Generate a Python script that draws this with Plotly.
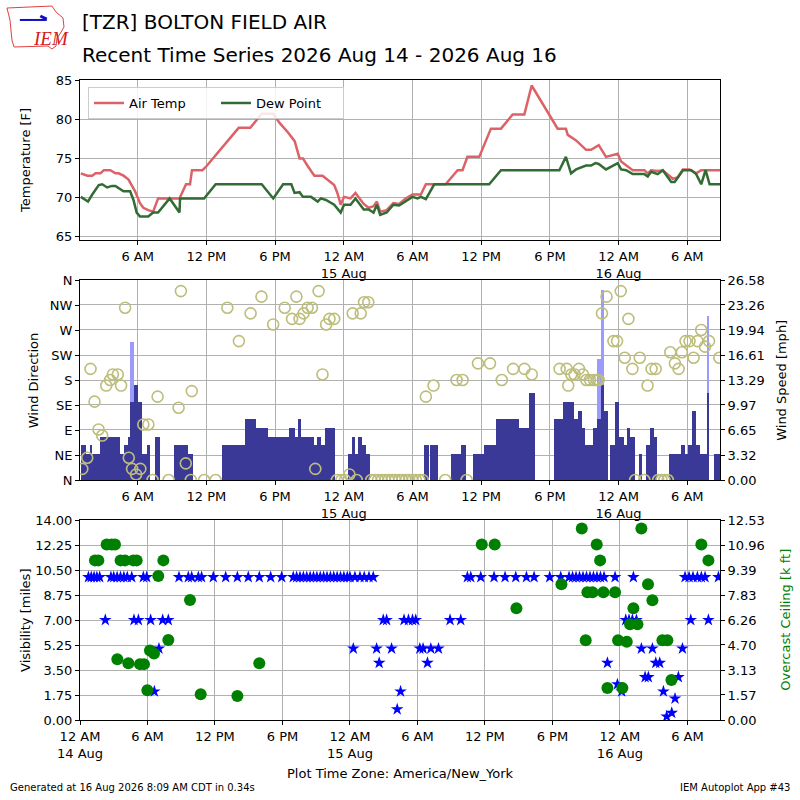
import pandas as pd
import plotly.graph_objects as go

# ==========================================
# DATA (hours after 2026-08-14 00:00, America/New_York)
# ==========================================

BASE = pd.Timestamp("2026-08-14 00:00")

temp_hours = [1.03, 1.6, 2.03, 2.32, 2.75, 3.04, 3.61, 4.05, 4.33, 4.76, 5.2, 5.48, 5.77, 6.2, 6.49,
              6.92, 7.35, 7.78, 9.65, 10.22, 10.57, 10.74, 11.66, 12.0, 13.0, 14.0, 14.82, 15.83, 16.83,
              17.84, 18.41, 19.13, 19.71, 20.14, 20.43, 20.86, 21.43, 22.15, 22.58, 23.16, 23.44, 23.73,
              24.02, 24.59, 25.02, 25.45, 25.74, 26.17, 26.6, 26.89, 27.18, 27.75, 28.33, 28.83, 29.4,
              30.0, 30.73, 31.17, 31.9, 32.9, 33.94, 34.37, 34.8, 35.83, 36.85, 37.73, 38.75, 39.77,
              40.41, 41.08, 41.95, 42.68, 43.4, 43.56, 44.29, 45.16, 45.6, 46.27, 46.9, 47.93, 48.22,
              48.66, 49.24, 50.26, 50.55, 50.84, 51.42, 51.86, 52.74, 53.18, 53.62, 54.2, 54.78, 55.22,
              56.86]
temp_f = [73.1, 72.8, 72.8, 73.1, 73.1, 73.5, 73.5, 73.1, 73.1, 72.8, 72.3, 71.6, 70.8, 69.3, 68.7,
          68.4, 68.2, 69.9, 69.9, 71.7, 71.7, 73.5, 73.5, 74.0, 75.7, 77.4, 78.9, 78.9, 80.7,
          80.7, 79.5, 78.3, 77.2, 75.0, 75.0, 74.0, 72.8, 72.8, 72.3, 71.6, 70.6, 69.1,
          70.1, 69.9, 70.6, 69.7, 69.2, 68.7, 68.9, 69.5, 68.2, 68.4, 69.3, 69.2, 69.9,
          70.4, 70.4, 71.7, 71.7, 71.7, 73.5, 73.5, 75.2, 75.2, 78.8, 78.8, 80.6, 80.6,
          84.3, 82.7, 80.6, 78.8, 78.8, 78.0, 77.3, 76.1, 76.1, 76.7, 75.2, 75.6, 74.6,
          74.1, 73.5, 73.5, 73.1, 73.5, 73.4, 73.5, 72.4, 72.6, 73.6, 73.6, 73.1, 73.5,
          73.5]

dew_hours = [1.03, 1.66, 2.03, 2.6, 2.9, 3.33, 3.76, 4.05, 4.76, 5.34, 5.63, 5.91, 6.2, 6.92, 7.35,
             7.78, 8.79, 9.65, 9.7, 11.8, 12.81, 16.83, 17.84, 18.7, 19.42, 19.7, 20.14, 20.43, 21.14,
             21.72, 22.0, 22.44, 23.16, 23.73, 24.02, 24.59, 25.02, 25.45, 25.74, 26.17, 26.6, 26.89,
             27.18, 27.75, 28.33, 28.83, 29.42, 30.0, 30.44, 30.73, 31.17, 31.9, 36.7, 37.73, 42.83,
             43.4, 43.85, 44.29, 45.16, 45.6, 45.98, 46.27, 46.9, 47.93, 48.22, 48.66, 49.24, 50.26,
             50.55, 50.84, 51.42, 51.86, 52.6, 52.9, 53.62, 54.35, 54.78, 55.22, 55.6, 55.95, 56.86]
dew_f = [70.1, 69.5, 70.4, 71.6, 71.7, 71.3, 71.5, 71.5, 70.8, 70.8, 69.7, 68.1, 67.6, 67.6, 68.1,
         68.1, 69.9, 68.1, 69.9, 69.9, 71.7, 71.7, 69.9, 71.7, 71.7, 70.6, 70.7, 70.1, 70.1,
         69.5, 69.9, 69.7, 69.1, 68.1, 69.1, 69.1, 69.9, 69.1, 68.5, 68.5, 68.1, 69.1,
         67.8, 68.1, 69.1, 69.0, 69.6, 70.1, 69.9, 70.1, 69.8, 71.7, 71.7, 73.5, 73.5,
         75.2, 73.1, 73.6, 74.1, 74.1, 74.4, 74.3, 73.6, 74.4, 73.6, 73.5, 73.0, 73.0,
         72.7, 73.3, 73.0, 73.5, 72.0, 72.0, 73.5, 73.5, 73.0, 71.7, 73.5, 71.7, 71.7]

# wind speed steps (mph), each held until the next observation
wind_hours = [1.07, 1.45, 1.8, 2.03, 2.75, 4.41, 4.78, 5.13, 5.36, 5.65, 6.0, 6.38, 6.81, 7.1, 7.54,
              7.97, 9.19, 10.43, 10.84, 13.39, 15.36, 16.29, 17.36, 19.19, 19.77, 20.0, 20.29, 21.36,
              21.65, 22.0, 22.32, 23.25, 24.35, 24.7, 24.99, 25.28, 25.57, 25.94, 26.29, 31.02, 31.4,
              31.55, 32.25, 33.36, 34.23, 34.67, 35.26, 36.22, 37.3, 39.28, 40.16, 40.66, 42.32, 43.17,
              44.1, 44.48, 44.77, 45.06, 45.73, 46.14, 46.43, 46.72, 47.04, 47.24, 47.73, 48.02, 48.46,
              48.75, 49.04, 49.42, 49.77, 50.09, 50.38, 50.73, 51.08, 51.4, 52.42, 53.41, 53.79, 54.08,
              54.43, 54.75, 55.1, 55.77, 55.92, 56.32, 56.93]
wind_mph = [4.6, 3.45, 4.6, 3.45, 5.75, 3.45, 4.6, 5.75, 10.36, 12.66, 10.36, 3.45, 4.6, 0, 5.75,
            0, 4.6, 3.45, 0, 4.6, 8.06, 6.9, 5.75, 6.9, 5.75, 8.06, 5.75, 4.6,
            5.75, 4.6, 6.9, 0, 3.45, 5.75, 3.45, 5.75, 4.6, 3.45, 0, 4.6, 0,
            4.6, 0, 3.45, 4.6, 0, 3.45, 4.6, 8.06, 6.9, 11.5, 0, 8.06, 10.36,
            8.06, 9.2, 6.9, 4.6, 6.9, 8.06, 12.66, 9.2, 0, 4.6, 10.36, 5.75, 4.6,
            6.9, 5.75, 0, 3.45, 0, 4.6, 6.9, 5.75, 0, 3.45, 4.6, 3.45, 4.6,
            9.2, 4.6, 3.45, 11.5, 0, 3.45, 0]

gust_hours = [5.36, 46.14, 46.43, 55.77]
gust_mph = [18.4, 16.1, 25.3, 21.86]

dir_hours = [1.16, 1.59, 1.88, 2.23, 2.58, 2.9, 3.25, 3.59, 3.83, 4.26, 4.55, 4.9, 5.22, 5.51, 5.86,
             6.23, 6.49, 6.93, 7.3, 7.74, 8.7, 9.57, 9.77, 10.2, 10.64, 10.72, 11.8, 12.8, 13.83,
             14.84, 15.86, 16.81, 17.83, 18.84, 19.48, 19.86, 20.14, 20.49, 20.84, 21.22, 21.51, 21.8,
             22.14, 22.46, 22.75, 23.16, 23.4, 23.8, 24.1, 24.49, 24.78, 25.13, 25.48, 25.77, 26.14,
             26.4, 26.7, 27.0, 27.3, 27.6, 27.9, 28.2, 28.5, 28.83, 29.1, 29.4, 29.7, 30.0, 30.3,
             30.6, 30.9, 31.17, 31.84, 32.86, 33.85, 34.38, 34.73, 35.72, 36.77, 37.8, 38.79, 39.78,
             40.42, 42.85, 43.47, 43.6, 43.87, 44.16, 44.54, 44.89, 45.18, 45.5, 45.85, 46.1, 46.26,
             46.55, 46.95, 47.55, 47.87, 48.19, 48.54, 48.86, 49.21, 49.45, 49.85, 50.25, 50.53, 50.88,
             51.24, 51.46, 51.75, 52.0, 52.3, 52.52, 52.92, 53.24, 53.53, 53.85, 54.2, 54.55, 54.9,
             55.22, 55.55, 55.9, 56.8]
dir_deg = [20, 40, 200, 141, 91, 80, 170, 180, 190, 190, 170, 310, 40, 20, 10,
           20, 100, 100, 0, 150, 0, 130, 340, 30, 0, 160, 0, 0, 310,
           250, 300, 330, 280, 310, 290, 330, 290, 300, 310, 310, 20, 340,
           190, 280, 290, 290, 0, 0, 0, 10, 300, 0, 300, 320, 320,
           0, 0, 0, 0, 0, 0, 0, 0, 0, 0, 0, 0, 0, 0,
           0, 0, 150, 170, 0, 180, 180, 0, 210, 210, 180, 200, 200,
           190, 200, 200, 170, 190, 190, 200, 190, 180, 180, 180, 180, 180,
           300, 330, 250, 250, 340, 220, 290, 200, 0, 220, 0, 170, 200,
           200, 0, 0, 0, 0, 230, 210, 200, 230, 250, 250, 220, 250,
           270, 240, 250, 220]

vis_hours = [0.75, 1.0, 1.25, 1.5, 1.75, 2.25, 2.75, 3.0, 3.3, 3.6, 3.9, 4.2, 4.6, 4.8, 5.19,
             5.63, 5.93, 6.28, 6.61, 7.02, 7.35, 7.85, 8.8, 9.63, 9.93, 10.52, 10.81, 11.85, 12.95,
             13.99, 14.96, 15.94, 16.95, 17.93, 18.96, 19.26, 19.56, 19.86, 20.16, 20.46, 20.76,
             21.06, 21.36, 21.66, 21.96, 22.26, 22.56, 22.86, 23.16, 23.46, 23.76, 24.0, 24.3, 24.44,
             24.89, 25.27, 25.69, 26.07, 26.37, 26.6, 26.96, 27.26, 27.7, 28.2, 28.5, 28.81, 29.2,
             29.56, 29.85, 30.21, 30.5, 30.89, 31.19, 31.87, 32.9, 33.85, 34.44, 34.74, 35.63, 36.81,
             37.79, 38.74, 39.69, 40.37, 41.76, 42.74, 43.48, 43.79, 44.1, 44.41, 44.72, 45.03,
             45.34, 45.65, 45.96, 46.27, 46.59, 46.89, 47.57, 47.78, 48.16, 48.52, 48.81, 49.11,
             49.2, 49.47, 49.91, 50.24, 50.53, 50.89, 51.19, 51.54, 51.87, 52.16, 52.61, 52.9,
             53.2, 53.56, 53.79, 54.15, 54.3, 54.5, 54.89, 55.24, 55.57, 55.87, 56.76]
vis_miles = [10, 10, 10, 10, 10, 7, 10, 10, 10, 10, 10, 10, 10, 7, 7,
             10, 10, 7, 2, 5, 7, 7, 10, 10, 10, 10, 10, 10, 10,
             10, 10, 10, 10, 10, 10, 10, 10, 10, 10, 10, 10,
             10, 10, 10, 10, 10, 10, 10, 10, 10, 10, 10, 5, 10,
             10, 10, 10, 10, 5, 4, 7, 7, 5, 0.75, 2, 7, 7,
             7, 7, 5, 5, 4, 5, 5, 7, 7, 10, 10, 10, 10,
             10, 10, 10, 10, 10, 10, 10, 10, 10, 10, 10, 10,
             10, 10, 10, 10, 10, 4, 10, 2.5, 2, 7, 7, 7,
             10, 7, 5, 3, 3, 5, 4, 4, 2, 0.25, 0.5, 1.5,
             3, 5, 10, 10, 7, 10, 10, 10, 10, 7, 10]

ceil_hours = [1.33, 1.63, 2.37, 2.81, 3.11, 3.32, 3.61, 4.0, 4.3, 4.74, 5.04, 5.33, 5.69, 5.99, 6.22,
              6.58, 6.96, 7.41, 7.85, 9.78, 10.73, 13.99, 15.94, 35.72, 36.87, 38.8, 42.8, 44.61,
              44.96, 45.11, 45.56, 45.94, 46.24, 46.53, 46.89, 47.57, 47.84, 48.22, 48.61, 48.9,
              49.2, 49.56, 49.91, 50.5, 50.89, 51.78, 52.22, 52.58, 55.24, 55.87]
ceil_kft = [10.0, 10.0, 11.0, 11.0, 11.0, 3.8, 10.0, 10.0, 3.55, 10.0, 10.0, 3.5, 3.5, 1.86, 4.36,
            4.16, 9.02, 10.0, 5.01, 7.52, 1.61, 1.5, 3.55, 11.0, 11.0, 7.0, 8.5, 12.0,
            5.0, 8.0, 8.0, 11.0, 10.0, 8.0, 2.0, 8.0, 5.0, 2.0, 4.9, 6.0,
            7.0, 6.0, 12.0, 8.5, 7.5, 5.0, 5.0, 2.5, 11.0, 10.0]

# axis ticks
tick_hours = [0, 6, 12, 18, 24, 30, 36, 42, 48, 54]
tick_labels = ["12 AM<br>14 Aug", "6 AM", "12 PM", "6 PM", "12 AM<br>15 Aug",
               "6 AM", "12 PM", "6 PM", "12 AM<br>16 Aug", "6 AM"]
dir_ticks = [0, 45, 90, 135, 180, 225, 270, 315, 360]
dir_labels = ["N", "NE", "E", "SE", "S", "SW", "W", "NW", "N"]
speed_ticks = [0, 3.32, 6.65, 9.97, 13.29, 16.61, 19.94, 23.26, 26.58]
vis_ticks = [0, 1.75, 3.5, 5.25, 7.0, 8.75, 10.5, 12.25, 14.0]
ceil_ticks = [0, 1.57, 3.13, 4.70, 6.26, 7.83, 9.39, 10.96, 12.53]


def to_time(hours):
    return [BASE + pd.Timedelta(hours=h) for h in hours]


# bar widths: each speed holds until the next report
wind_width = [(b - a) * 3600 * 1000 for a, b in zip(wind_hours[:-1], wind_hours[1:])]
gust_width = [wind_width[wind_hours.index(h)] for h in gust_hours]

FONT = "DejaVu Sans"
GRID = "#b0b0b0"

fig = go.Figure()

# ==========================================
# TEMPERATURE
# ==========================================

fig.add_trace(go.Scatter(x=to_time(temp_hours), y=temp_f, mode="lines", name="Air Temp",
                         line=dict(color="#dd6268", width=2.5), xaxis="x", yaxis="y"))
fig.add_trace(go.Scatter(x=to_time(dew_hours), y=dew_f, mode="lines", name="Dew Point",
                         line=dict(color="#336b35", width=2.5), xaxis="x", yaxis="y"))

# ==========================================
# WIND
# ==========================================

fig.add_trace(go.Bar(x=to_time(gust_hours), y=gust_mph, width=gust_width, offset=0,
                     marker=dict(color="#9a9aff", line=dict(width=0)), showlegend=False,
                     xaxis="x2", yaxis="y2"))
fig.add_trace(go.Bar(x=to_time(wind_hours[:-1]), y=wind_mph[:-1], width=wind_width, offset=0,
                     marker=dict(color="#3b3998", line=dict(width=0)), showlegend=False,
                     xaxis="x2", yaxis="y2"))
fig.add_trace(go.Scatter(x=to_time(dir_hours), y=dir_deg, mode="markers", showlegend=False,
                         marker=dict(symbol="circle-open", size=11, color="#bdbd7c",
                                     line=dict(width=1.6)),
                         xaxis="x2", yaxis="y3"))

# ==========================================
# VISIBILITY / CEILING
# ==========================================

fig.add_trace(go.Scatter(x=to_time(vis_hours), y=vis_miles, mode="markers", showlegend=False,
                         marker=dict(symbol="star", size=9.5, color="#0000ff"),
                         xaxis="x3", yaxis="y4"))
fig.add_trace(go.Scatter(x=to_time(ceil_hours), y=ceil_kft, mode="markers", showlegend=False,
                         marker=dict(symbol="circle", size=12, color="#008000"),
                         xaxis="x3", yaxis="y5"))

axis_style = dict(showline=True, linecolor="black", linewidth=1, ticks="outside", ticklen=4,
                  tickcolor="black", gridcolor=GRID, gridwidth=1, zeroline=False,
                  tickfont=dict(size=13))

top_range = to_time([0.96, 56.86])
bot_range = to_time([0, 56.9])

fig.update_layout(
    width=800, height=800,
    margin=dict(l=80, r=80, t=80, b=80),
    plot_bgcolor="white", paper_bgcolor="white",
    font=dict(family=FONT, size=13, color="black"),
    barmode="overlay", bargap=0,
    xaxis=dict(domain=[0, 1], anchor="y", range=top_range, tickvals=to_time(tick_hours),
               ticktext=tick_labels, mirror=True, showgrid=True, **axis_style),
    yaxis=dict(domain=[0.75, 1], anchor="x", range=[64.6, 85.0], tickvals=[65, 70, 75, 80, 85],
               mirror=True, showgrid=True, **axis_style),
    xaxis2=dict(domain=[0, 1], anchor="y2", range=top_range, tickvals=to_time(tick_hours),
                ticktext=tick_labels, mirror=True, showgrid=True, **axis_style),
    yaxis2=dict(domain=[0.375, 0.6875], anchor="x2", side="right", range=[0, 26.58],
                tickvals=speed_ticks, tickformat=".2f", showgrid=True, **axis_style),
    yaxis3=dict(overlaying="y2", anchor="x2", side="left", range=[0, 360], tickvals=dir_ticks,
                ticktext=dir_labels, showgrid=False, **axis_style),
    xaxis3=dict(domain=[0, 1], anchor="y4", range=bot_range, tickvals=to_time(tick_hours),
                ticktext=tick_labels, mirror=True, showgrid=True, **axis_style),
    yaxis4=dict(domain=[0, 0.3125], anchor="x3", side="left", range=[0, 14], tickvals=vis_ticks,
                tickformat=".2f", showgrid=True, **axis_style),
    yaxis5=dict(overlaying="y4", anchor="x3", side="right", range=[0, 12.53], tickvals=ceil_ticks,
                tickformat=".2f", showgrid=False, **axis_style),
    legend=dict(x=0.0125, y=0.989, xanchor="left", yanchor="top", orientation="h",
                bgcolor="rgba(255,255,255,0.85)", bordercolor="#cccccc", borderwidth=1,
                font=dict(size=13), entrywidth=82, entrywidthmode="pixels"),
)

# titles and labels
texts = [
    ("[TZR] BOLTON FIELD AIR", 0.0, 1.0906, 20, "black", 0, "left"),
    ("Recent Time Series 2026 Aug 14 - 2026 Aug 16", 0.0, 1.039, 20, "black", 0, "left"),
    ("Temperature [F]", -0.086, 0.875, 13, "black", -90, "center"),
    ("Wind Direction", -0.073, 0.53125, 13, "black", -90, "center"),
    ("Wind Speed [mph]", 1.095, 0.53125, 13, "black", -90, "center"),
    ("Visibility [miles]", -0.086, 0.15625, 13, "black", -90, "center"),
    ("Overcast Ceiling [k ft]", 1.101, 0.15625, 13, "green", -90, "center"),
    ("Plot Time Zone: America/New_York", 0.5, -0.084, 13, "black", 0, "center"),
]
for txt, x, y, size, color, angle, anchor in texts:
    fig.add_annotation(text=txt, x=x, y=y, xref="paper", yref="paper", showarrow=False,
                       xanchor=anchor, yanchor="middle", textangle=angle,
                       font=dict(size=size, color=color, family=FONT))

fig.add_annotation(text="Generated at 16 Aug 2026 8:09 AM CDT in 0.34s", x=-0.1125, y=-0.106,
                   xref="paper", yref="paper", showarrow=False, xanchor="left", yanchor="middle",
                   font=dict(size=10, family=FONT))
fig.add_annotation(text="IEM Autoplot App #43", x=1.1125, y=-0.106, xref="paper", yref="paper",
                   showarrow=False, xanchor="right", yanchor="middle", font=dict(size=10, family=FONT))

# IEM logo
fig.add_shape(type="path", xref="paper", yref="paper",
              path="M -0.1141 1.1125 L -0.0438 1.1156 L -0.0375 1.1063 L -0.0266 1.0969 "
                   "L -0.025 1.0828 L -0.0313 1.0719 L -0.0359 1.0656 L -0.0375 1.0531 "
                   "L -0.0438 1.0484 L -0.05 1.0531 L -0.1031 1.0516 L -0.1063 1.0625 "
                   "L -0.1094 1.0938 Z",
              line=dict(color="#e04040", width=1))
fig.add_shape(type="line", xref="paper", yref="paper", x0=-0.094, y0=1.0938, x1=-0.052, y1=1.0938,
              line=dict(color="#1010c0", width=2))
fig.add_shape(type="line", xref="paper", yref="paper", x0=-0.062, y0=1.1, x1=-0.052, y1=1.095,
              line=dict(color="#1010c0", width=3))
fig.add_annotation(text="IEM", x=-0.0766, y=1.084, xref="paper", yref="paper", showarrow=False,
                   font=dict(size=19, color="#d42020", family="Liberation Serif", style="italic"))

fig.write_html("out.html", config={"displayModeBar": False},
               post_script="document.body.style.margin = '0';")
